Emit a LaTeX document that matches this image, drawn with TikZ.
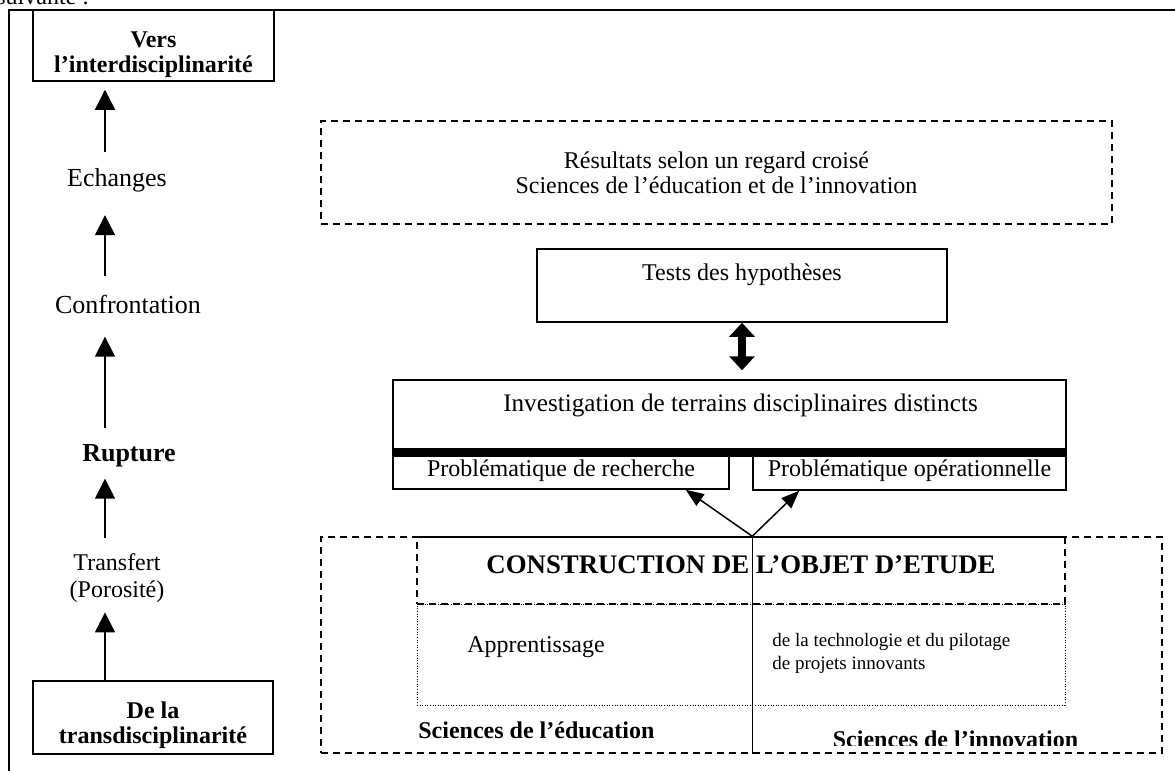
\documentclass[tikz,border=0pt]{standalone}
\usepackage{fontspec}
\setmainfont{Liberation Serif}
\usetikzlibrary{arrows.meta}
\newcommand{\txtsize}{\fontsize{12}{12.5}\selectfont}
\newcommand{\colsize}{\fontsize{13}{13.5}\selectfont}

\begin{document}
\begin{tikzpicture}[x=0.5pt, y=-0.5pt,
    box/.style={draw, line width=0.75pt, inner sep=0pt, font=\txtsize},
    dashbox/.style={draw, line width=0.75pt, dash pattern=on 3.5pt off 2.5pt, inner sep=0pt, font=\txtsize},
    dotbox/.style={draw, line width=0.5pt, dash pattern=on 0.5pt off 0.8pt, inner sep=0pt},
    lbl/.style={inner sep=0pt, font=\txtsize},
    uparr/.style={line width=0.75pt, -{Triangle[width=10pt,length=10pt]}},
    ptr/.style={line width=0.75pt, -{Triangle[width=7pt,length=9pt]}},
    dblarr/.style={line width=4pt, {Triangle[width=12.5pt,length=7pt]}-{Triangle[width=12.5pt,length=7pt]}}]
    \useasboundingbox (0,0) rectangle (1175,771);
    \clip (0,0) rectangle (1175,771);

    % page frame
    \node[lbl, anchor=base west] (suiv) at (-4,4) {suivante :};
    \draw[line width=1pt] (9,771) |- (1175,10);

    % left column
    \node[box, align=center, font=\txtsize\bfseries, minimum width=120.5pt, minimum height=35.5pt] (vers) at (153.5,45.5) {\rule{0pt}{17pt}Vers\\l’interdisciplinarité};
    \node[lbl, font=\colsize] (echanges) at (117,180) {Echanges};
    \node[lbl, font=\colsize] (confront) at (128,304) {Confrontation};
    \node[lbl, font=\colsize\bfseries] (rupture) at (129,456) {Rupture};
    \node[lbl, align=center, font=\fontsize{12}{13.5}\selectfont] (transfert) at (117,578.5) {Transfert\\(Porosité)};
    \node[box, align=center, font=\txtsize\bfseries, minimum width=120pt, minimum height=36.5pt] (dela) at (153,717.5) {\rule{0pt}{16pt}De la\\transdisciplinarité};
    \coordinate (col) at (105,0);

    \draw[uparr, shorten >=4.5pt] (dela.north -| col) -- (transfert.south -| col);
    \draw[uparr, shorten <=8pt, shorten >=5.5pt] (transfert.north -| col) -- (rupture.south -| col);
    \draw[uparr, shorten <=8pt, shorten >=11.5pt] (rupture.north -| col) -- (confront.south -| col);
    \draw[uparr, shorten <=9pt, shorten >=11.5pt] (confront.north -| col) -- (echanges.south -| col);
    \draw[uparr, shorten <=8pt, shorten >=4pt] (echanges.north -| col) -- (vers.south -| col);

    % right part
    \node[dashbox, align=center, minimum width=395.5pt, minimum height=51.5pt] (res) at (716.5,172.5) {Résultats selon un regard croisé\\Sciences de l’éducation et de l’innovation};
    \node[box, minimum width=205pt, minimum height=36.5pt, text depth=13pt] (tests) at (742,285.5) {Tests des hypothèses};
    \node[box, font=\fontsize{12.6}{13}\selectfont, minimum width=336.5pt, minimum height=36pt, text depth=13.5pt] (inv) at (729.5,416) {\hspace*{11pt}Investigation de terrains disciplinaires distincts};
    \node[box, minimum width=168pt, minimum height=18.5pt] (prob1) at (561,470.5) {Problématique de recherche};
    \node[box, minimum width=156.5pt, minimum height=19pt] (prob2) at (909.5,471) {Problématique opérationnelle};
    \draw[line width=4.5pt] (inv.south west) -- (inv.south east);
    \draw[dblarr, shorten >=4.5pt] (tests.south) -- (tests.south |- inv.north);

    % objet d'etude
    \node[dashbox, minimum width=420.5pt, minimum height=108pt] (outer) at (741.5,645) {};
    \node[dashbox, minimum width=324pt, minimum height=33.5pt, font=\fontsize{13.4}{15}\selectfont\bfseries, text depth=5.5pt] (constr) at (741,570.5) {CONSTRUCTION DE L’OBJET D’ETUDE};
    \node[dotbox, minimum width=324pt, minimum height=50.5pt] (dotted) at (741,654.5) {};
    \coordinate (jn) at (outer.north -| prob2.south west);
    \draw[ptr] (jn) -- ([xshift=-22pt]prob1.south east);
    \draw[ptr] (jn) -- ([xshift=23.5pt]prob2.south west);
    \draw[line width=0.75pt] (jn) -- (jn |- outer.south);
    \node[lbl] (appr) at (536,647) {Apprentissage};
    \node[lbl, anchor=west, align=left, font=\fontsize{9.5}{11.5}\selectfont] (techno) at (772,653.5) {de la technologie et du pilotage\\de projets innovants};
    \node[lbl, anchor=west, font=\txtsize\bfseries] (sedu) at (418,730) {Sciences de l’éducation};
    \begin{scope}
        \clip (800,700) rectangle (1150,745);
        \node[lbl, font=\txtsize\bfseries] (sinno) at (955.5,739) {Sciences de l’innovation};
    \end{scope}
\end{tikzpicture}
\end{document}
